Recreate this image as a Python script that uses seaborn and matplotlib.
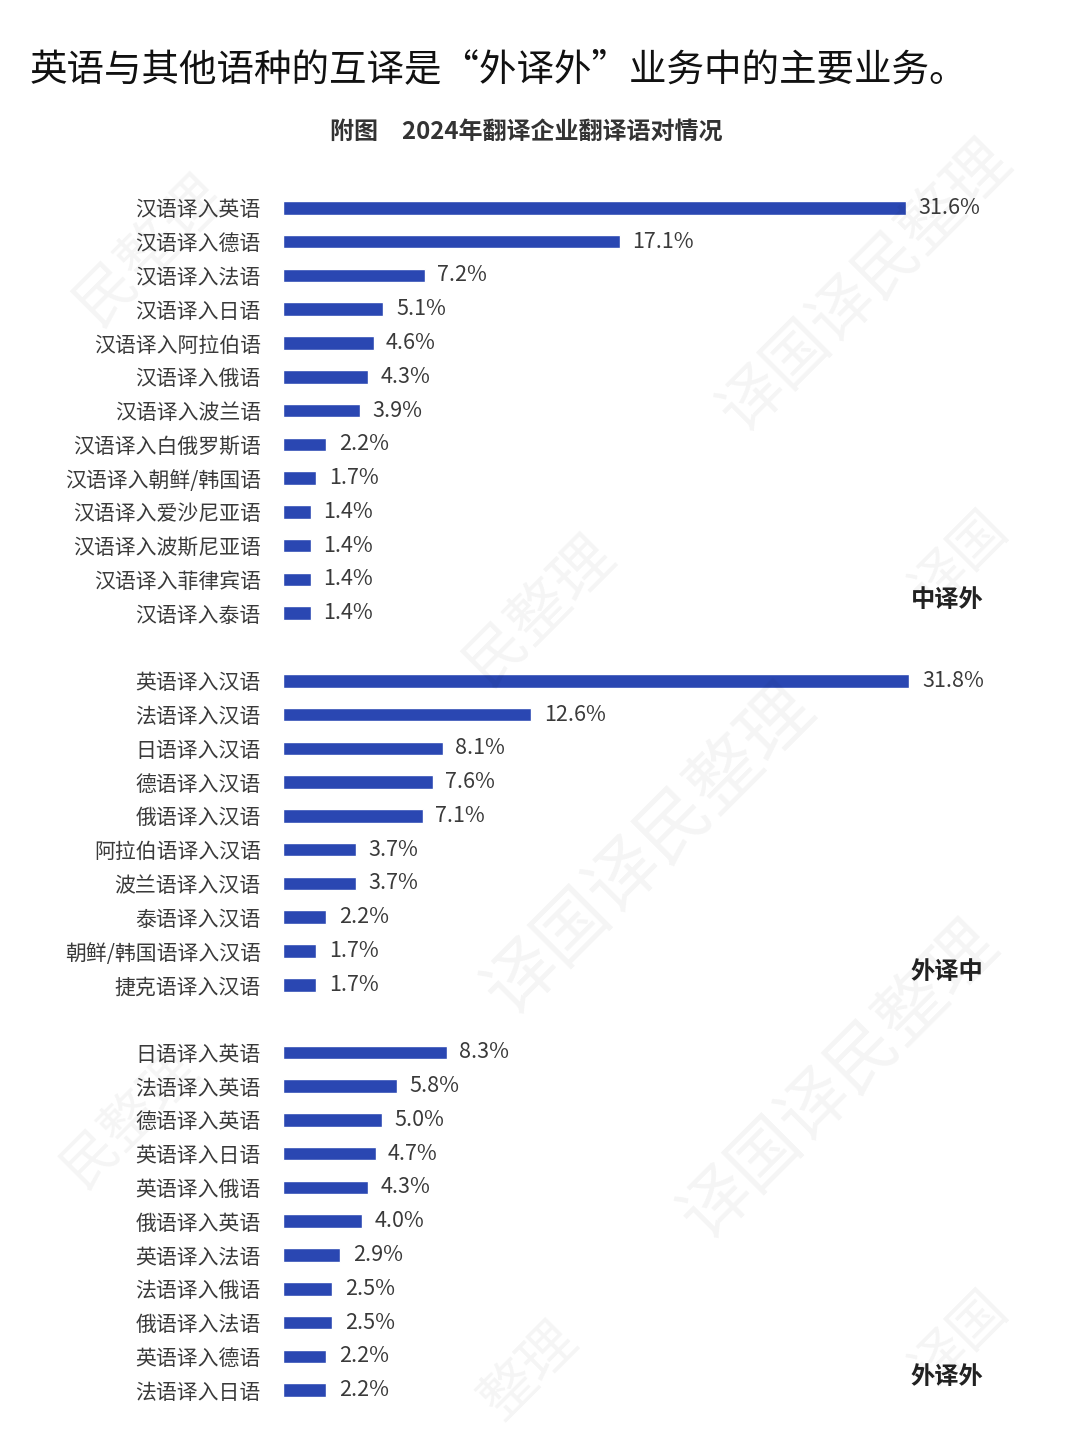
import matplotlib
matplotlib.use('Agg')
import matplotlib.pyplot as plt
import matplotlib.transforms as mtransforms
import seaborn as sns
import pandas as pd

# 中译外
zh_wai_labels = ['汉语译入英语', '汉语译入德语', '汉语译入法语', '汉语译入日语', '汉语译入阿拉伯语',
                 '汉语译入俄语', '汉语译入波兰语', '汉语译入白俄罗斯语', '汉语译入朝鲜/韩国语',
                 '汉语译入爱沙尼亚语', '汉语译入波斯尼亚语', '汉语译入菲律宾语', '汉语译入泰语']
zh_wai_values = [31.6, 17.1, 7.2, 5.1, 4.6, 4.3, 3.9, 2.2, 1.7, 1.4, 1.4, 1.4, 1.4]

# 外译中
wai_zh_labels = ['英语译入汉语', '法语译入汉语', '日语译入汉语', '德语译入汉语', '俄语译入汉语',
                 '阿拉伯语译入汉语', '波兰语译入汉语', '泰语译入汉语', '朝鲜/韩国语译入汉语', '捷克语译入汉语']
wai_zh_values = [31.8, 12.6, 8.1, 7.6, 7.1, 3.7, 3.7, 2.2, 1.7, 1.7]

# 外译外
wai_wai_labels = ['日语译入英语', '法语译入英语', '德语译入英语', '英语译入日语', '英语译入俄语',
                  '俄语译入英语', '英语译入法语', '法语译入俄语', '俄语译入法语', '英语译入德语', '法语译入日语']
wai_wai_values = [8.3, 5.8, 5.0, 4.7, 4.3, 4.0, 2.9, 2.5, 2.5, 2.2, 2.2]

section_names = ['中译外', '外译中', '外译外']

BLUE = '#2a47b2'
TEXT = '#3a3a3a'

df = pd.DataFrame({
    'label': zh_wai_labels + wai_zh_labels + wai_wai_labels,
    'value': zh_wai_values + wai_zh_values + wai_wai_values,
})
# 空白分类用于分隔三个部分
order = zh_wai_labels + [' '] + wai_zh_labels + ['  '] + wai_wai_labels

sns.set_theme(style='white')
plt.rcParams['font.family'] = ['Noto Sans CJK SC', 'DejaVu Sans']

fig = plt.figure(figsize=(10.8, 14.43), dpi=100)
ax = fig.add_axes([283 / 1080, 1 - 1407 / 1443, (1000 - 283) / 1080, (1407 - 191) / 1443])

sns.barplot(data=df, x='value', y='label', order=order, color=BLUE,
            width=0.4, orient='h', ax=ax, saturation=1)

for p in ax.patches:
    w = p.get_width()
    ax.annotate(f'{w:.1f}%', (w, p.get_y() + p.get_height() / 2),
                xytext=(9, 0), textcoords='offset points',
                ha='left', va='center', fontsize=15.5, color=TEXT)

ax.set_xlim(0, (1000 - 283) / 19.7)
ax.set_xticks([])
ax.set_xlabel('')
ax.set_ylabel('')
ax.tick_params(axis='y', left=False, pad=10, labelsize=15, labelcolor=TEXT)
sns.despine(ax=ax, left=True, bottom=True, top=True, right=True)

# 部分标签
trans = mtransforms.blended_transform_factory(ax.transAxes, ax.transData)
last_rows = [zh_wai_labels[-1], wai_zh_labels[-1], wai_wai_labels[-1]]
for name, row in zip(section_names, last_rows):
    ax.text((947 - 283) / (1000 - 283), order.index(row) - 0.38, name, transform=trans,
            ha='center', va='center', fontsize=17.5, fontweight='bold', color='#222222')

# 水印
for (x, y, s, size) in [(865, 285, '译国译民整理', 46), (650, 850, '译国译民整理', 52),
                         (840, 1080, '译国译民整理', 50), (150, 250, '民整理', 44),
                         (540, 610, '民整理', 44), (130, 1120, '民整理', 40),
                         (960, 560, '译国', 40), (530, 1370, '整理', 40), (960, 1340, '译国', 40)]:
    fig.text(x / 1080, 1 - y / 1443, s, rotation=45, ha='center', va='center',
             fontsize=size, color='#000000', alpha=0.045, zorder=0)

fig.text(30 / 1080, 1 - 70 / 1443, '英语与其他语种的互译是“外译外”业务中的主要业务。',
         fontsize=27, color='#111111', va='center', ha='left')
fig.text(526 / 1080, 1 - 132 / 1443, '附图　2024年翻译企业翻译语对情况',
         fontsize=17.3, fontweight='bold', color='#333333', va='center', ha='center')

fig.savefig('out.png', dpi=100, facecolor='white')
